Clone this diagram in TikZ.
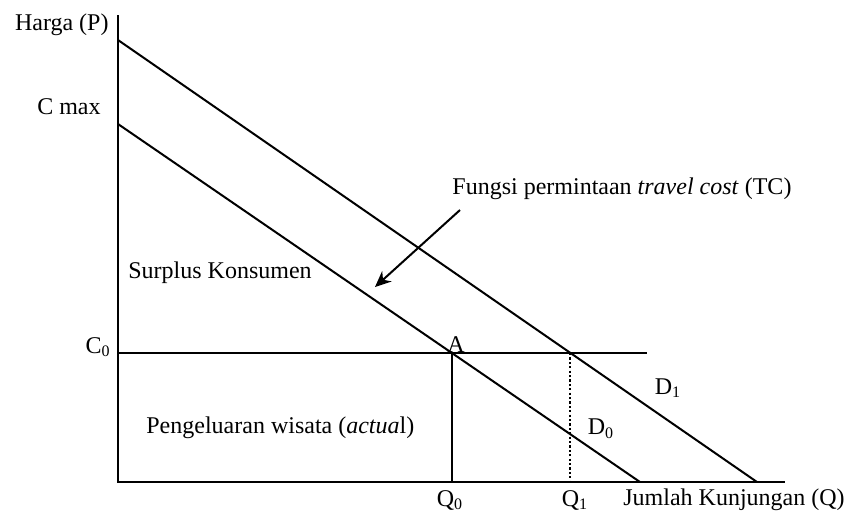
\documentclass[tikz,border=0pt]{standalone}
\usepackage{fontspec}
\setmainfont{Liberation Serif}
\usetikzlibrary{arrows.meta}
\tikzset{
    curve/.style={line width=1pt},
    lbl/.style={inner sep=0pt, font=\fontsize{12}{14}\selectfont}
}
\begin{document}
\begin{tikzpicture}[x=0.5pt, y=-0.5pt]
    \useasboundingbox (0,0) rectangle (851,511);

    \coordinate (O) at (118,482);
    \coordinate (Ptop) at (118,15);
    \coordinate (Qend) at (785,482);
    \coordinate (Done) at (118,40);
    \coordinate (Doneend) at (757,482);
    \coordinate (Dzero) at (118,124);
    \coordinate (Dzeroend) at (640,482);
    \coordinate (Czero) at (118,353);
    \coordinate (Czeroend) at (647,353);
    \coordinate (A) at (452,353);
    \coordinate (B) at (570,353);
    \coordinate (Qzero) at (452,482);
    \coordinate (Qone) at (570,482);
    \coordinate (tail) at (460,210);
    \coordinate (tip) at (375,287);

    \draw [curve] (Ptop) -- (O) -- (Qend);
    \draw [curve] (Done) -- (Doneend);
    \draw [curve] (Dzero) -- (Dzeroend);
    \draw [curve] (Czero) -- (Czeroend);
    \draw [curve] (A) -- (Qzero);
    \draw [line width=1.3pt, dash pattern=on 1.1pt off 1.1pt] (B) -- (Qone);
    \draw [curve, -{Stealth[length=8pt, width=7pt]}] (tail) -- (tip);

    \node [lbl, anchor=east] (harga) at (109,25) {Harga (P)};
    \node [lbl, anchor=east] (cmax) at (101,107) {C max};
    \node [lbl, anchor=east] (czlbl) at (111,347) {C\textsubscript{0}};
    \node [lbl, anchor=west] (surplus) at (128,273) {Surplus Konsumen};
    \node [lbl, anchor=west] (keluar) at (146,428) {Pengeluaran wisata (\textit{actua}l)};
    \node [lbl, anchor=west] (fungsi) at (452,189) {Fungsi permintaan \textit{travel cost} (TC)};
    \node [lbl, anchor=base] (alb) at (456,352) {A};
    \node [lbl] (donelb) at (668,388) {D\textsubscript{1}};
    \node [lbl] (dzerolb) at (601,429) {D\textsubscript{0}};
    \node [lbl] (qzlb) at (450,500) {Q\textsubscript{0}};
    \node [lbl] (qolb) at (575,500) {Q\textsubscript{1}};
    \node [lbl, anchor=west] (jumlah) at (623,500) {Jumlah Kunjungan (Q)};

\end{tikzpicture}
\end{document}
